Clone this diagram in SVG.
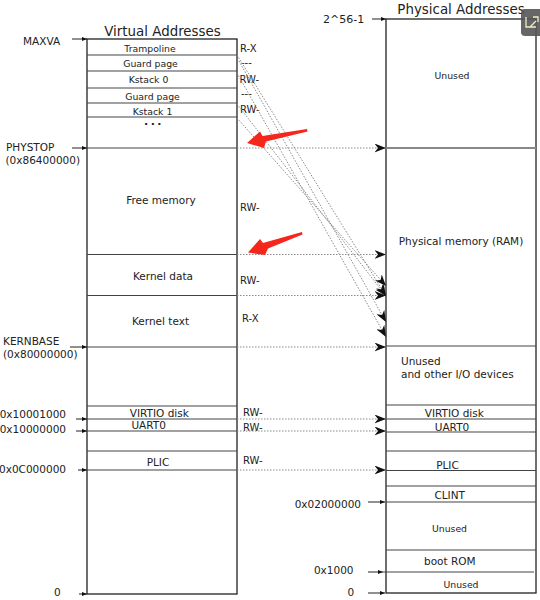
<svg xmlns="http://www.w3.org/2000/svg" width="540" height="600" viewBox="0 0 540 600">
<style>
text{font-family:"DejaVu Sans","Liberation Sans",sans-serif;fill:#222}
.t{font-size:13.4px}
.s{font-size:9.3px;text-anchor:middle}
.m{font-size:10.5px;text-anchor:middle}
.l{font-size:10.5px}
.e{font-size:10.5px;text-anchor:end}
.p{font-size:10px}
.box{fill:#fff;stroke:#222;stroke-width:1.3}
.row{stroke:#444;stroke-width:1.2;fill:none}
.dot{stroke:#8a8a8a;stroke-width:1;stroke-dasharray:1.5 1.5;fill:none;marker-end:url(#big)}
.ptr{stroke:#222;stroke-width:1;fill:none;marker-end:url(#small)}
.red{fill:#f5261b}
</style>
<defs>
<marker id="big" markerUnits="userSpaceOnUse" markerWidth="12" markerHeight="9" refX="11.5" refY="4.5" orient="auto">
<path d="M0,0 L11.5,4.5 L0,9 L3.5,4.5 z" fill="#111"/>
</marker>
<marker id="small" markerUnits="userSpaceOnUse" markerWidth="5" markerHeight="4" refX="5" refY="2" orient="auto">
<path d="M0,0 L5,2 L0,4 z" fill="#111"/>
</marker>
</defs>
<rect width="540" height="600" fill="#fff"/>

<g id="virtual">
<text class="t" x="162.5" y="36" text-anchor="middle">Virtual Addresses</text>
<rect class="box" x="87" y="39" width="150" height="555"/>
<path class="row" d="M87,55H237M87,71H237M87,88H237M87,103H237M87,117H237M87,148H237M87,254.5H237M87,295.5H237M87,347H237M87,406H237M87,419H237M87,431H237M87,451H237M87,470H237"/>
<text class="s" x="150" y="52">Trampoline</text>
<text class="s" x="150.5" y="67">Guard page</text>
<text class="s" x="148.5" y="82.5">Kstack 0</text>
<text class="s" x="152.5" y="99.5">Guard page</text>
<text class="s" x="152.5" y="114.5">Kstack 1</text>
<text x="154" y="125" font-size="11" font-weight="bold" text-anchor="middle" letter-spacing="2.5">...</text>
<text class="m" x="161" y="204">Free memory</text>
<text class="m" x="163" y="280">Kernel data</text>
<text class="m" x="160.5" y="325">Kernel text</text>
<text class="m" x="159.3" y="416.5">VIRTIO disk</text>
<text class="m" x="148.7" y="429">UART0</text>
<text class="m" x="158" y="466">PLIC</text>
</g>

<g id="virtual-perms">
<text class="p" x="240" y="52">R-X</text>
<text class="p" x="241" y="66">---</text>
<text class="p" x="239.5" y="83">RW-</text>
<text class="p" x="241" y="97">---</text>
<text class="p" x="240" y="113">RW-</text>
<text class="p" x="240" y="211">RW-</text>
<text class="p" x="240" y="284">RW-</text>
<text class="p" x="242" y="322">R-X</text>
<text class="p" x="243" y="416">RW-</text>
<text class="p" x="243" y="431">RW-</text>
<text class="p" x="243" y="464">RW-</text>
</g>

<g id="virtual-labels">
<text class="l" x="23" y="45">MAXVA</text>
<text class="l" x="6" y="151">PHYSTOP</text>
<text class="l" x="5.5" y="164">(0x86400000)</text>
<text class="l" x="3" y="345">KERNBASE</text>
<text class="l" x="3" y="357.5">(0x80000000)</text>
<text class="e" x="66" y="418">0x10001000</text>
<text class="e" x="66" y="433">0x10000000</text>
<text class="e" x="66" y="473">0x0C000000</text>
<text class="l" x="54" y="595.5">0</text>
<path class="ptr" d="M72,39H87"/>
<path class="ptr" d="M72,148H87"/>
<path class="ptr" d="M70,347H87"/>
<path class="ptr" d="M76,419H87"/>
<path class="ptr" d="M76,431H87"/>
<path class="ptr" d="M78,470H87"/>
<path class="ptr" d="M79,594H87"/>
</g>

<g id="physical">
<text class="t" x="461" y="14" text-anchor="middle">Physical Addresses</text>
<rect class="box" x="386" y="19" width="150" height="574"/>
<path d="M386,148H536" stroke="#888" stroke-width="2"/>
<path class="row" d="M386,346H536M386,405H536M386,419H536M386,432H536M386,451H536M386,470.5H536M386,486H536M386,502H536M386,550H536M383,572H534"/>
<text class="s" x="452" y="79">Unused</text>
<text class="m" x="461" y="245">Physical memory (RAM)</text>
<text class="l" x="401" y="365">Unused</text>
<text class="l" x="401" y="378">and other I/O devices</text>
<text class="m" x="454.3" y="416.5">VIRTIO disk</text>
<text class="m" x="452" y="431">UART0</text>
<text class="m" x="447.5" y="469">PLIC</text>
<text class="m" x="449.7" y="499">CLINT</text>
<text class="s" x="449.5" y="532">Unused</text>
<text class="m" x="449.8" y="565">boot ROM</text>
<text class="s" x="461" y="587.5">Unused</text>
</g>

<g id="physical-labels">
<text x="323" y="23" font-size="11">2^56-1</text>
<text class="e" x="361" y="507.5">0x02000000</text>
<text class="e" x="353.5" y="574">0x1000</text>
<text class="l" x="347.5" y="595.5">0</text>
<path class="ptr" d="M372,19H386"/>
<path class="ptr" d="M368,502H385"/>
<path class="ptr" d="M368,572H383"/>
<path class="ptr" d="M368,593H385"/>
</g>

<g id="connectors">
<path class="dot" d="M237,148H386"/>
<path class="dot" d="M237,254.5H386"/>
<path class="dot" d="M237,295.5H386"/>
<path class="dot" d="M237,347H386"/>
<path class="dot" d="M237,419H386"/>
<path class="dot" d="M237,431H386"/>
<path class="dot" d="M237,470H386"/>
<path class="dot" d="M237,55L386,296"/>
<path class="dot" d="M239,61L386,322"/>
<path class="dot" d="M237,73L386,337"/>
<path class="dot" d="M237,104L386,296"/>
<path class="dot" d="M237,118L386,286"/>
</g>

<g id="annotations">
<polygon class="red" points="247,143 260,131.5 262.5,136 307,129 307.5,131.5 266,141.5 264,148"/>
<polygon class="red" points="248,252.5 260,239 263,243 302,232 302.5,234.5 268,248.5 265,255"/>
</g>

<g id="corner-icon">
<rect x="521" y="9" width="30" height="27" rx="4" fill="#555" fill-opacity="0.9"/>
<path d="M526,17V27H536M530,27L536,21M533,17H538V22" stroke="#f2ecc4" stroke-width="1.3" fill="none"/>
</g>
</svg>
